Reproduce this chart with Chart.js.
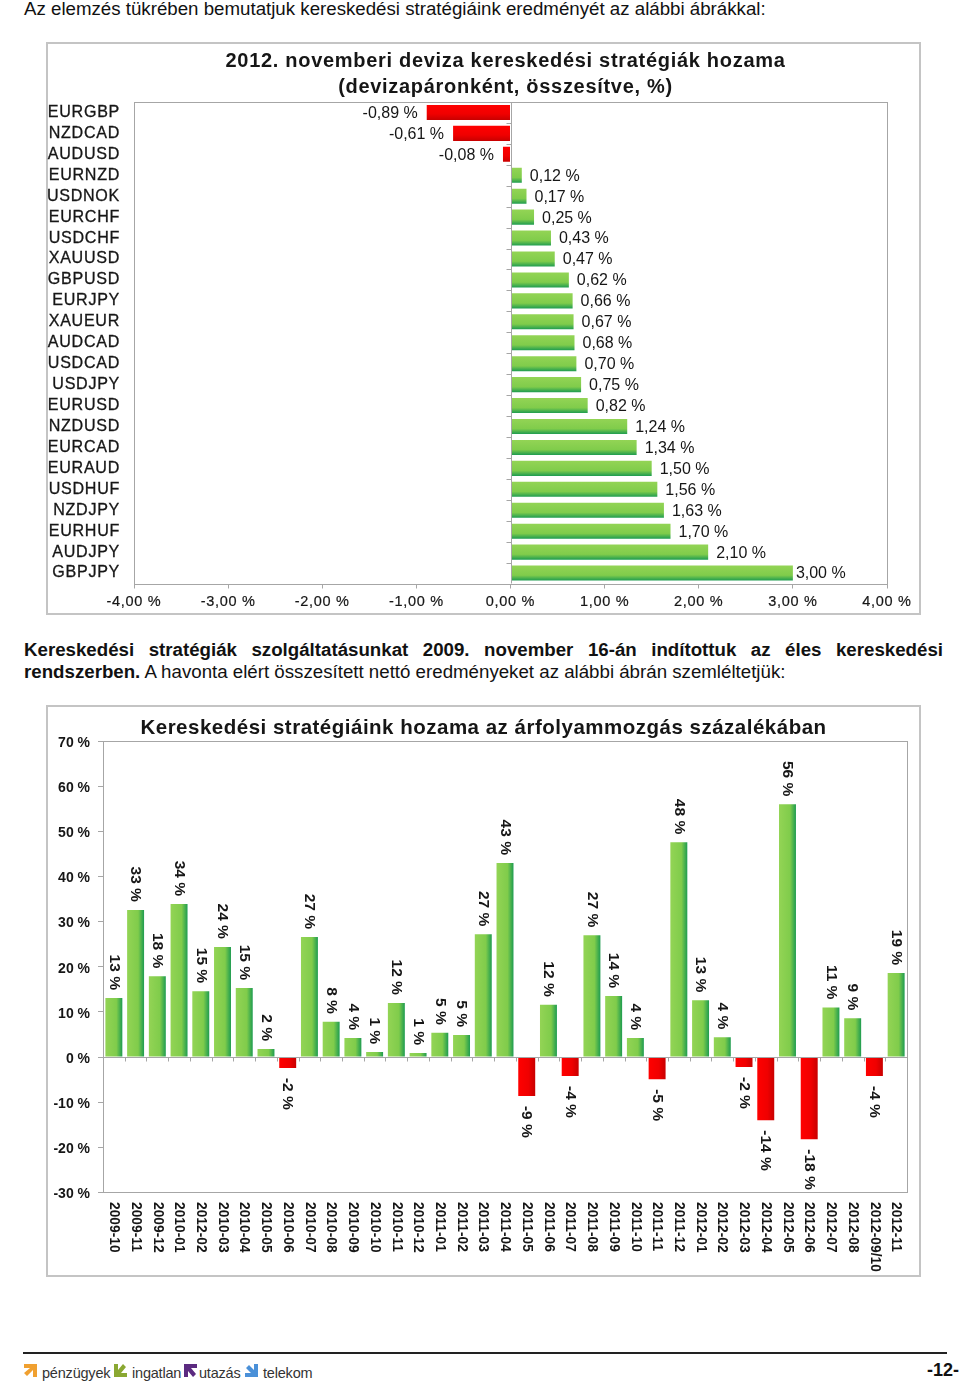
<!DOCTYPE html>
<html lang="hu">
<head>
<meta charset="utf-8">
<title>Kereskedési stratégiák</title>
<script src="https://cdn.jsdelivr.net/npm/chart.js@4/dist/chart.umd.min.js"></script>
<style>
  html, body { margin: 0; padding: 0; background: #fff; }
  body { position: relative; width: 960px; height: 1386px; overflow: hidden; font-family: "Liberation Sans", Arial, sans-serif; color: #111; }
  .line { position: absolute; left: 24px; font-size: 18.7px; line-height: 21px; white-space: nowrap; }
  .just { width: 919px; white-space: normal; text-align: justify; text-align-last: justify; font-weight: bold; }
  .frame { position: absolute; left: 46px; width: 875px; background: #fff; box-shadow: inset 0 0 0 2px #c4c4c4; }
  .frame canvas { display: block; }
  #rule { position: absolute; left: 23px; top: 1352px; width: 924px; height: 2px; background: #222; }
  .foot { position: absolute; top: 1365px; font-size: 14.5px; line-height: 17px; color: #333; letter-spacing: -0.2px; }
  .arrow { position: absolute; top: 1364px; }
  #page { position: absolute; left: 927px; top: 1360px; font-size: 18px; line-height: 20px; font-weight: bold; }
</style>
</head>
<body>
<div class="line" style="top:-2px">Az elemzés tükrében bemutatjuk kereskedési stratégiáink eredményét az alábbi ábrákkal:</div>

<div class="frame" style="top:42px;height:573px"><canvas id="pairChart" width="875" height="573"></canvas></div>

<div class="line just" style="top:639px">Kereskedési stratégiák szolgáltatásunkat 2009. november 16-án indítottuk az éles kereskedési</div>
<div class="line" style="top:661px"><b>rendszerben.</b> A havonta elért összesített nettó eredményeket az alábbi ábrán szemléltetjük:</div>

<div class="frame" style="top:705px;height:572px"><canvas id="monthChart" width="875" height="572"></canvas></div>

<div id="rule"></div>
<svg class="arrow" style="left:24px" width="13" height="13" viewBox="0 0 13 13"><polygon points="0,0 13,0 13,13 9,13 9,6 3,12 0,9 6,4 0,4" fill="#f0a030"/></svg>
<div class="foot" style="left:42px">pénzügyek</div>
<svg class="arrow" style="left:114px" width="13" height="13" viewBox="0 0 13 13"><polygon points="0,13 13,13 13,9 7,9 12,3 9,0 4,6 4,0 0,0" fill="#8aa832"/></svg>
<div class="foot" style="left:132px">ingatlan</div>
<svg class="arrow" style="left:184px" width="13" height="13" viewBox="0 0 13 13"><polygon points="0,0 13,0 13,4 7,4 12,10 9,13 4,7 4,13 0,13" fill="#5b2a80"/></svg>
<div class="foot" style="left:199px">utazás</div>
<svg class="arrow" style="left:245px" width="13" height="13" viewBox="0 0 13 13"><polygon points="13,13 0,13 0,9 6,9 1,4 4,1 9,6 9,0 13,0" fill="#4a90d8"/></svg>
<div class="foot" style="left:263px">telekom</div>
<div id="page">-12-</div>

<script>
var FONT = '"Liberation Sans", Arial, sans-serif';

// top chart: currency pairs
var pairs = ['EURGBP', 'NZDCAD', 'AUDUSD', 'EURNZD', 'USDNOK', 'EURCHF', 'USDCHF', 'XAUUSD', 'GBPUSD', 'EURJPY', 'XAUEUR', 'AUDCAD',
  'USDCAD', 'USDJPY', 'EURUSD', 'NZDUSD', 'EURCAD', 'EURAUD', 'USDHUF', 'NZDJPY', 'EURHUF', 'AUDJPY', 'GBPJPY'];
var pairReturns = [-0.89, -0.61, -0.08, 0.12, 0.17, 0.25, 0.43, 0.47, 0.62, 0.66, 0.67, 0.68,
  0.70, 0.75, 0.82, 1.24, 1.34, 1.50, 1.56, 1.63, 1.70, 2.10, 3.00];
var pairTitle = ['2012. novemberi deviza kereskedési stratégiák hozama', '(devizapáronként, összesítve, %)'];

// bottom chart: months
var months = ['2009-10', '2009-11', '2009-12', '2010-01', '2012-02', '2010-03', '2010-04', '2010-05', '2010-06', '2010-07', '2010-08', '2010-09',
  '2010-10', '2010-11', '2010-12', '2011-01', '2011-02', '2011-03', '2011-04', '2011-05', '2011-06', '2011-07', '2011-08', '2011-09',
  '2011-10', '2011-11', '2011-12', '2012-01', '2012-02', '2012-03', '2012-04', '2012-05', '2012-06', '2012-07', '2012-08', '2012-09/10', '2012-11'];
var monthReturns = [13.1, 32.6, 17.9, 33.9, 14.6, 24.4, 15.3, 1.8, -2.4, 26.6, 7.8, 4.2,
  1.1, 12, 0.9, 5.4, 4.9, 27.2, 43, -8.6, 11.6, -4.2, 27, 13.5,
  4.2, -4.9, 47.6, 12.6, 4.4, -2.2, -14, 56, -18.2, 11, 8.6, -4.2, 18.6];
var monthTitle = 'Kereskedési stratégiáink hozama az árfolyammozgás százalékában';

var INK = '#161616';
var AXIS = '#a6a6a6';

// green / red gradient across the thickness of one bar
function barFill(ctx, horizontal, pct) {
  var chart = ctx.chart;
  if (!chart.chartArea || ctx.dataIndex === undefined) return '#6fc24c';
  var neg = ctx.dataset.data[ctx.dataIndex] < 0;
  var scale = horizontal ? chart.scales.y : chart.scales.x;
  var mid = scale.getPixelForTick(ctx.dataIndex);
  var half = horizontal ? scale.height / pairs.length * pct / 2 : scale.width / months.length * pct / 2;
  var g = horizontal
    ? chart.ctx.createLinearGradient(0, mid - half, 0, mid + half)
    : chart.ctx.createLinearGradient(mid - half, 0, mid + half, 0);
  if (neg) {
    g.addColorStop(0, '#ff0000');
    g.addColorStop(0.6, '#f00000');
    g.addColorStop(1, '#c80000');
  } else {
    g.addColorStop(0, '#93d455');
    g.addColorStop(0.65, '#80cc4b');
    g.addColorStop(1, '#1e9c50');
  }
  return g;
}

// letter spacing of the scanned-looking text
var spacing = {
  id: 'spacing',
  beforeDraw: function(chart, args, opts) {
    chart.ctx.letterSpacing = opts.px + 'px';
  }
};

// the titles are not centred on the canvas in the original
var titleShift = {
  id: 'titleShift',
  afterLayout: function(chart, args, opts) {
    chart.titleBlock.left += opts.px;
    chart.titleBlock.right += opts.px;
  }
};

// plot box, zero line and the small category ticks on it
var plotBox = {
  id: 'plotBox',
  afterDatasetsDraw: function(chart, args, opts) {
    var c = chart.ctx, a = chart.chartArea;
    var cat = opts.horizontal ? chart.scales.y : chart.scales.x;
    var val = opts.horizontal ? chart.scales.x : chart.scales.y;
    var zero = Math.round(val.getPixelForValue(0)) + 0.5;
    c.save();
    c.strokeStyle = AXIS;
    c.lineWidth = 1;
    c.strokeRect(Math.round(a.left) + 0.5, Math.round(a.top) + 0.5, Math.round(a.width), Math.round(a.height));
    c.beginPath();
    for (var i = 0; i <= cat.ticks.length; i++) {
      var p = Math.round(cat.getPixelForValue(i - 0.5)) + 0.5;
      if (opts.horizontal) {
        c.moveTo(zero - 5, p);
        c.lineTo(zero, p);
      } else {
        c.moveTo(p, zero);
        c.lineTo(p, zero + 4);
      }
    }
    if (opts.horizontal) {
      c.moveTo(zero, a.top);
      c.lineTo(zero, a.bottom);
    } else {
      c.moveTo(a.left, zero);
      c.lineTo(a.right, zero);
    }
    c.stroke();
    c.restore();
  }
};

// value labels next to the horizontal bars
var pairLabels = {
  id: 'pairLabels',
  afterDatasetsDraw: function(chart) {
    if (chart.canvas.id !== 'pairChart') return;
    var c = chart.ctx;
    c.save();
    c.font = '16px ' + FONT;
    c.fillStyle = INK;
    c.textBaseline = 'middle';
    c.letterSpacing = '0px';
    chart.getDatasetMeta(0).data.forEach(function(bar, i) {
      var v = pairReturns[i];
      var text = v.toFixed(2).replace('.', ',') + ' %';
      c.textAlign = v < 0 ? 'right' : 'left';
      var gap = v >= 3 ? 3 : 8;
      c.fillText(text, v < 0 ? bar.x - 9 : bar.x + gap, bar.y + 1);
    });
    c.restore();
  }
};

// rotated month labels and rotated value labels, both reading top to bottom,
// plus the percent labels of the value axis, which sit a little below their ticks
var monthLabels = {
  id: 'monthLabels',
  afterDatasetsDraw: function(chart) {
    if (chart.canvas.id !== 'monthChart') return;
    var c = chart.ctx, xs = chart.scales.x, ys = chart.scales.y, a = chart.chartArea;
    function rotated(text, x, y, align) {
      c.save();
      c.translate(x, y);
      c.rotate(Math.PI / 2);
      c.textAlign = align;
      c.textBaseline = 'middle';
      c.fillText(text, 0, 0);
      c.restore();
    }
    c.save();
    c.fillStyle = INK;
    c.letterSpacing = '0px';
    c.font = 'bold 15.5px ' + FONT;
    chart.getDatasetMeta(0).data.forEach(function(bar, i) {
      var v = monthReturns[i];
      var text = Math.round(v) + ' %';
      if (v < 0) rotated(text, bar.x, bar.y + 10, 'left');
      else rotated(text, bar.x, bar.y - 8, 'right');
    });
    c.font = 'bold 13.8px ' + FONT;
    months.forEach(function(m, i) {
      rotated(m, xs.getPixelForTick(i), a.bottom + 9.5, 'left');
    });
    c.font = 'bold 14px ' + FONT;
    c.textAlign = 'right';
    c.textBaseline = 'middle';
    ys.ticks.forEach(function(t, i) {
      c.fillText(t.value + ' %', a.left - 13, ys.getPixelForTick(i) + 2);
    });
    c.restore();
  }
};

Chart.register(spacing, titleShift, plotBox, pairLabels, monthLabels);

new Chart(document.getElementById('pairChart'), {
  type: 'bar',
  data: {
    labels: pairs,
    datasets: [{
      data: pairReturns,
      backgroundColor: function(ctx) { return barFill(ctx, true, 0.72); },
      borderWidth: 0,
      barPercentage: 0.72,
      categoryPercentage: 1
    }]
  },
  options: {
    indexAxis: 'y',
    responsive: false,
    animation: false,
    layout: { padding: { left: 0, right: 34, top: 0, bottom: 0 } },
    plugins: {
      legend: { display: false },
      tooltip: { enabled: false },
      spacing: { px: 0.7 },
      titleShift: { px: 39 },
      plotBox: { horizontal: true },
      title: {
        display: true,
        text: pairTitle,
        color: INK,
        font: { family: FONT, size: 20, weight: 'bold', lineHeight: 1.3 },
        padding: { top: 6, bottom: 2 }
      }
    },
    scales: {
      x: {
        min: -4,
        max: 4,
        afterFit: function(s) { s.height = 31.5; s.paddingLeft = 0; s.paddingRight = 0; },
        border: { display: false },
        grid: { drawOnChartArea: false, tickLength: 5, color: AXIS },
        ticks: {
          stepSize: 1,
          padding: 5,
          color: INK,
          textStrokeColor: INK,
          textStrokeWidth: 0.2,
          maxRotation: 0,
          font: { family: FONT, size: 14.5 },
          callback: function(v) { return v.toFixed(2).replace('.', ',') + ' %'; }
        }
      },
      y: {
        afterFit: function(s) { s.width = 88; s.paddingTop = 0; s.paddingBottom = 0; },
        border: { display: false },
        grid: { display: false },
        ticks: {
          autoSkip: false,
          padding: 6,
          color: INK,
          textStrokeColor: INK,
          textStrokeWidth: 0.3,
          font: { family: FONT, size: 16.1 }
        }
      }
    }
  }
});

new Chart(document.getElementById('monthChart'), {
  type: 'bar',
  data: {
    labels: months,
    datasets: [{
      data: monthReturns,
      backgroundColor: function(ctx) { return barFill(ctx, false, 0.78); },
      borderWidth: 0,
      barPercentage: 0.78,
      categoryPercentage: 1
    }]
  },
  options: {
    responsive: false,
    animation: false,
    layout: { padding: { left: 0, right: 14, top: 0, bottom: 0 } },
    plugins: {
      legend: { display: false },
      tooltip: { enabled: false },
      spacing: { px: 0.5 },
      titleShift: { px: 7 },
      plotBox: { horizontal: false },
      title: {
        display: true,
        text: monthTitle,
        color: INK,
        font: { family: FONT, size: 20.5, weight: 'bold', lineHeight: 1.27 },
        padding: { top: 10, bottom: 0 }
      }
    },
    scales: {
      x: {
        afterFit: function(s) { s.height = 84.5; s.paddingLeft = 0; s.paddingRight = 0; },
        border: { display: false },
        grid: { display: false },
        ticks: { display: false, autoSkip: false }
      },
      y: {
        min: -30,
        max: 70,
        afterFit: function(s) { s.width = 57; s.paddingTop = 0; s.paddingBottom = 0; },
        border: { display: false },
        grid: { drawOnChartArea: false, tickLength: 5, color: AXIS },
        ticks: { display: false, stepSize: 10 }
      }
    }
  }
});
</script>
</body>
</html>
